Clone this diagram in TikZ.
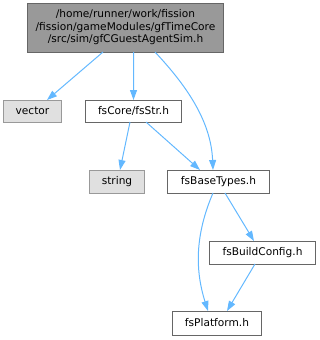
\documentclass[tikz,border=0pt]{standalone}
\usepackage{fontspec}
\setmainfont{DejaVu Sans}
\usetikzlibrary{arrows.meta}
\definecolor{edgeblue}{HTML}{63B8FF}
\definecolor{topfill}{HTML}{999999}
\definecolor{darkborder}{HTML}{666666}
\definecolor{sysfill}{HTML}{E0E0E0}
\definecolor{sysborder}{HTML}{999999}
\begin{document}
\begin{tikzpicture}[x=1bp,y=-1bp,
  every node/.style={font=\fontsize{10.6bp}{12.5bp}\selectfont, inner sep=0pt, outer sep=0pt, line width=1bp, align=center},
  filebox/.style={draw=darkborder, fill=white, rectangle, minimum height=23bp},
  sysbox/.style={draw=sysborder, fill=sysfill, rectangle, minimum height=23bp},
  mainbox/.style={draw=darkborder, fill=topfill, rectangle},
  dep/.style={draw=edgeblue, line width=1bp, -{Triangle[length=10bp,width=7bp]}}
]
\useasboundingbox (0,0) rectangle (320,340);
\node[mainbox, minimum width=195bp, minimum height=49bp] (top) at (125.5,27.5)
  {/home/runner/work/fission\\/fission/gameModules/gfTimeCore\\/src/sim/gfCGuestAgentSim.h};
\node[sysbox, minimum width=57bp, minimum height=22bp] (vector) at (32.5,111) {vector};
\node[filebox, minimum width=95bp, minimum height=22bp] (str) at (133.5,111) {fsCore/fsStr.h};
\node[sysbox, minimum width=54bp] (string) at (117,181.5) {string};
\node[filebox, minimum width=101bp] (base) at (218.5,181.5) {fsBaseTypes.h};
\node[filebox, minimum width=105bp] (build) at (262.5,252.5) {fsBuildConfig.h};
\node[filebox, minimum width=88bp, minimum height=24bp] (plat) at (217,323) {fsPlatform.h};

\draw[dep] ([xshift=-22.5bp]top.south) -- ([xshift=14.5bp]vector.north);
\draw[dep] ([xshift=8bp]top.south) -- (str.north);
\draw[dep] ([xshift=29.5bp]top.south) .. controls +(30,32) and +(-2,-50) .. ([xshift=-5.5bp]base.north);
\draw[dep] ([xshift=-3.5bp]str.south) -- ([xshift=3bp]string.north);
\draw[dep] ([xshift=12.5bp]str.south) -- ([xshift=-18.5bp]base.north);
\draw[dep] ([xshift=-5.5bp]base.south) .. controls +(-18,42) and +(-13,-41) .. ([xshift=-9bp]plat.north);
\draw[dep] ([xshift=6.5bp]base.south) -- ([xshift=-8.5bp]build.north);
\draw[dep] ([xshift=-7.5bp]build.south) -- ([xshift=10bp]plat.north);
\end{tikzpicture}
\end{document}
